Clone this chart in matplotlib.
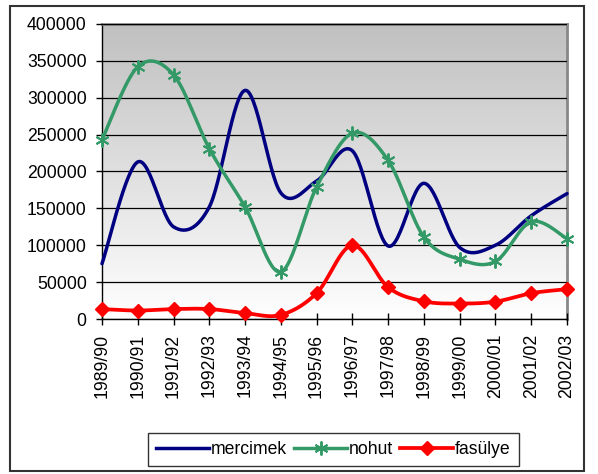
import numpy as np
import matplotlib
matplotlib.use("Agg")
import matplotlib.pyplot as plt
from matplotlib.colors import LinearSegmentedColormap
from matplotlib.patches import Rectangle
from matplotlib.lines import Line2D

plt.rcParams['font.family'] = ['Liberation Sans', 'DejaVu Sans']

seasons = ["1989/90", "1990/91", "1991/92", "1992/93", "1993/94", "1994/95", "1995/96",
           "1996/97", "1997/98", "1998/99", "1999/00", "2000/01", "2001/02", "2002/03"]
mercimek = [75000, 213000, 125000, 152000, 310000, 171000, 187000,
            228000, 99000, 184000, 97000, 100000, 140000, 170000]
nohut = [243000, 342000, 331000, 231000, 152000, 64000, 179000,
         252000, 215000, 111000, 81000, 78000, 132000, 109000]
fasulye = [13500, 11500, 13500, 13500, 8000, 5500, 35000,
           100000, 43000, 24000, 21000, 23500, 35000, 40500]
y_ticks = [0, 50000, 100000, 150000, 200000, 250000, 300000, 350000, 400000]
series_names = ["mercimek", "nohut", "fasülye"]


def smooth(xs, ys, n=30):
    xs = np.asarray(xs, float)
    ys = np.asarray(ys, float)
    px, py = [], []
    m = len(xs)
    for i in range(m - 1):
        x0, y0 = (xs[i - 1], ys[i - 1]) if i > 0 else (xs[i], ys[i])
        x1, y1 = xs[i], ys[i]
        x2, y2 = xs[i + 1], ys[i + 1]
        x3, y3 = (xs[i + 2], ys[i + 2]) if i + 2 < m else (xs[i + 1], ys[i + 1])
        c1x, c1y = x1 + (x2 - x0) / 6, y1 + (y2 - y0) / 6
        c2x, c2y = x2 - (x3 - x1) / 6, y2 - (y3 - y1) / 6
        t = np.linspace(0, 1, n, endpoint=(i == m - 2))
        a = (1 - t) ** 3
        b = 3 * (1 - t) ** 2 * t
        c = 3 * (1 - t) * t ** 2
        d = t ** 3
        px.append(a * x1 + b * c1x + c * c2x + d * x2)
        py.append(a * y1 + b * c1y + c * c2y + d * y2)
    return np.concatenate(px), np.concatenate(py)


W, H = 598, 474
fig = plt.figure(figsize=(W / 100, H / 100), dpi=100)
ax = fig.add_axes([102 / W, 1 - 319 / H, (567 - 102) / W, (319 - 24) / H])

# gradient background
cmap = LinearSegmentedColormap.from_list("g", ["#ffffff", "#c0c0c0"])
grad = np.linspace(0, 1, 256).reshape(-1, 1)
ax.imshow(grad, extent=[0, 1, 0, 1], transform=ax.transAxes, aspect='auto',
          cmap=cmap, origin='lower', zorder=0)

x = np.arange(len(seasons))
green = "#339966"
navy = "#000080"
red = "#ff0000"

sx, sy = smooth(x, mercimek)
ax.plot(sx, sy, color=navy, lw=2.5, zorder=3, clip_on=False, solid_capstyle='round')
sx, sy = smooth(x, nohut)
ax.plot(sx, sy, color=green, lw=2.5, zorder=3, clip_on=False, solid_capstyle='round')
ax.plot(x, nohut, ls='none', marker=(6, 2, 0), ms=10, mec=green, mew=1.4, zorder=4, clip_on=False)
sx, sy = smooth(x, fasulye)
ax.plot(sx, sy, color=red, lw=2.7, zorder=3, clip_on=False, solid_capstyle='round')
ax.plot(x, fasulye, ls='none', marker='D', ms=7, mfc=red, mec=red, zorder=4, clip_on=False)

ax.set_xlim(0, len(seasons) - 1)
ax.set_ylim(0, 400000)
ax.set_xticks(x)
ax.set_xticklabels(seasons, rotation=90, fontsize=12.7)
ax.set_yticks(y_ticks)
ax.set_yticklabels([str(v) for v in y_ticks], fontsize=12.7)
ax.yaxis.grid(True, color='black', lw=0.9, zorder=1)
ax.set_axisbelow(False)
for gl in ax.get_ygridlines():
    gl.set_zorder(1)
ax.tick_params(axis='y', direction='out', length=4, width=1, pad=7)
ax.tick_params(axis='x', direction='inout', length=9, width=1, pad=6)
ax.spines['left'].set_color('black')
ax.spines['bottom'].set_color('black')
ax.spines['left'].set_linewidth(1)
ax.spines['bottom'].set_linewidth(1)
for s in ['top', 'right']:
    ax.spines[s].set_color('#888888')
    ax.spines[s].set_linewidth(2)

# chart border
fig.add_artist(Rectangle((10 / W, (H - 471) / H), 574 / W, 465 / H, transform=fig.transFigure,
                         fill=False, edgecolor='#333333', lw=1.5))

handles = [
    Line2D([], [], color=navy, lw=2.5),
    Line2D([], [], color=green, lw=2.5, marker=(6, 2, 0), ms=10, mew=1.4),
    Line2D([], [], color=red, lw=2.7, marker='D', ms=7),
]
leg = fig.legend(handles, series_names, loc='center', bbox_to_anchor=(333.5 / W, 1 - 449.5 / H),
                 ncol=3, fontsize=12.7, frameon=True, fancybox=False, edgecolor='black',
                 handlelength=3.0, columnspacing=0.4, handletextpad=0.1, borderpad=0.45)
leg.get_frame().set_linewidth(1)

fig.savefig("out.png", dpi=100)
